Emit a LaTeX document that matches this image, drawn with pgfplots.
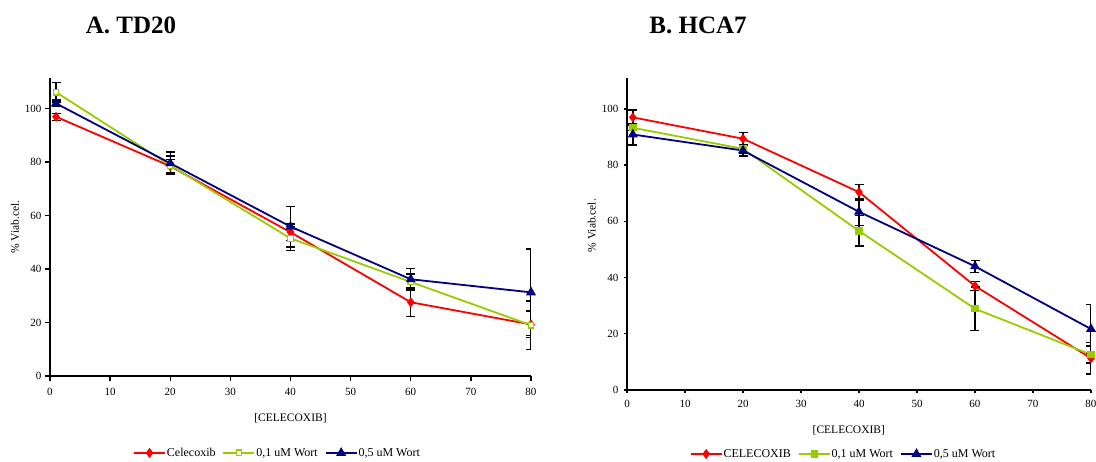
\documentclass[border=0pt]{standalone}
\usepackage{pgfplots}
\pgfplotsset{compat=1.18}
\usepackage{fontspec}
\setmainfont{Liberation Serif}

\definecolor{serR}{RGB}{255,0,0}
\definecolor{serG}{RGB}{153,204,0}
\definecolor{serB}{RGB}{0,0,128}

\pgfplotsset{
  viab/.style={
    scale only axis,
    axis lines=left,
    axis line style={-, black, line width=1.6pt},
    tick align=outside,
    major tick length=5pt,
    tick style={black, line width=1.4pt},
    xmin=0, xmax=80, ymin=0,
    xtick={0,10,...,80}, ytick={0,20,...,100},
    /pgf/number format/assume math mode=true,
    ticklabel style={font=\fontsize{11}{13}\selectfont},
    xticklabel style={yshift=-4pt},
    every axis x label/.style={at={(axis description cs:0.5,0)}, anchor=center, yshift=-42pt, font=\fontsize{11.5}{13}\selectfont},
    every axis y label/.style={rotate=90, anchor=center, font=\fontsize{11.5}{13}\selectfont},
    xlabel={[CELECOXIB]},
    ylabel={\% Viab.cel.},
    legend columns=3,
    legend style={draw=none, fill=none, anchor=center,
      font=\fontsize{12}{14}\selectfont,
      nodes={inner xsep=1pt, inner ysep=1pt},
      /tikz/every even column/.append style={column sep=6pt}},
    legend image code/.code={
      \draw[mark repeat=2, mark phase=2, #1] plot coordinates {(0pt,0pt) (15.5pt,0pt) (31pt,0pt)};
    },
    error bars/y dir=both,
    error bars/y explicit,
    error bars/error bar style={black, line width=1.4pt, solid},
    error bars/error mark options={black, mark size=4.5pt, line width=1.4pt, rotate=90},
  },
  serline/.style={line width=1.8pt, mark options={solid, line width=0.8pt}},
}

\begin{document}
\begin{tikzpicture}
\path[use as bounding box] (0pt,0pt) rectangle (1096pt,-461pt);

\node[font=\bfseries\fontsize{25}{28}\selectfont] at (131pt,-25pt) {A. TD20};
\node[font=\bfseries\fontsize{25}{28}\selectfont] at (698pt,-25pt) {B. HCA7};

% ---- A: TD20 ----
\begin{axis}[viab,
  at={(50pt,-376pt)}, anchor=south west,
  width=481pt, height=298pt, ymax=111.5,
  ylabel style={at={(axis description cs:-0.073,0.5)}},
  legend style={at={(axis description cs:0.472,-0.258)}},
]
\addplot[serR, serline, mark=diamond*, mark size=3.6pt, mark options={fill=serR}]
  coordinates {(1,97) +- (0,1.3) (20,78.5) +- (0,2.5) (40,53.8) +- (0,3) (60,27.6) +- (0,5.3) (80,19.3) +- (0,5)};
\addlegendentry{Celecoxib}
\addplot[serG, serline, mark=square*, mark size=2.8pt, mark options={fill=white, line width=1.2pt}]
  coordinates {(1,106.2) +- (0,3.7) (20,78.8) +- (0,3.5) (40,51.5) +- (0,4.5) (60,35.2) +- (0,2.9) (80,19) +- (0,9)};
\addlegendentry{0,1 uM Wort}
\addplot[serB, serline, mark=triangle*, mark size=4pt, mark options={fill=serB}]
  coordinates {(1,102) +- (0,1.2) (20,79.6) +- (0,4.2) (40,55.9) +- (0,7.6) (60,36.2) +- (0,4) (80,31.3) +- (0,16.2)};
\addlegendentry{0,5 uM Wort}
\end{axis}

% ---- B: HCA7 ----
\begin{axis}[viab,
  at={(627pt,-390pt)}, anchor=south west,
  width=464pt, height=312pt, ymax=111,
  major tick length=3pt,
  yticklabel style={xshift=-2pt},
  ylabel style={at={(axis description cs:-0.076,0.527)}},
  xlabel style={at={(axis description cs:0.478,0)}, yshift=2pt},
  legend style={at={(axis description cs:0.4655,-0.205)}},
]
\addplot[serR, serline, mark=diamond*, mark size=3.6pt, mark options={fill=serR}]
  coordinates {(1,97) +- (0,2.6) (20,89.4) +- (0,2.2) (40,70.4) +- (0,2.8) (60,37) +- (0,1.7) (80,11.3) +- (0,5.6)};
\addlegendentry{CELECOXIB}
\addplot[serG, serline, mark=square*, mark size=2.8pt, mark options={fill=serG}]
  coordinates {(1,93.3) +- (0,1) (20,85.8) +- (0,1.5) (40,56.6) +- (0,5.4) (60,28.9) +- (0,7.7) (80,12.6) +- (0,3)};
\addlegendentry{0,1 uM Wort}
\addplot[serB, serline, mark=triangle*, mark size=4pt, mark options={fill=serB}]
  coordinates {(1,90.9) +- (0,3.7) (20,85.2) +- (0,2) (40,63.4) +- (0,4.8) (60,44) +- (0,2.1) (80,21.7) +- (0,8.8)};
\addlegendentry{0,5 uM Wort}
\end{axis}
\end{tikzpicture}
\end{document}
